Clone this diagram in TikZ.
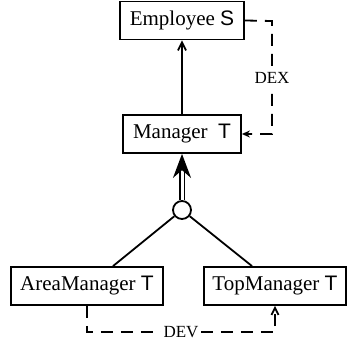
\documentclass[tikz,border=0pt]{standalone}
\usepackage{fontspec}
\setmainfont{Liberation Serif}
\newfontfamily\sansT{Liberation Sans}
\usetikzlibrary{arrows.meta}

\tikzset{
  cls/.style={draw, line width=1.8pt, minimum height=38pt, inner sep=0pt, font=\fontsize{21}{25}\selectfont},
  link/.style={line width=1.8pt},
  devline/.style={line width=1.8pt, dash pattern=on 12pt off 8pt},
  lbl/.style={fill=white, inner sep=3pt, font=\fontsize{17}{20}\selectfont},
}

\begin{document}
\begin{tikzpicture}[x=1pt, y=-1pt]
    \useasboundingbox (0,0) rectangle (347,342);
    % classes
    \node[cls, minimum width=124pt] (emp) at (182,20.5) {Employee {\sansT S}};
    \node[cls, minimum width=118pt] (mgr) at (182,134) {Manager\ \ {\sansT T}};
    \node[cls, minimum width=152pt] (area) at (87,286) {AreaManager {\sansT T}};
    \node[cls, minimum width=142pt] (top) at (275,286) {TopManager {\sansT T}};
    \node[draw, circle, line width=1.8pt, minimum size=18pt, inner sep=0pt] (circ) at (182,210) {};
    % specialisation
    \draw[link, -{Straight Barb[length=8pt,width=8pt]}] (mgr) -- (emp);
    \draw[line width=1.8pt, double, double distance=3pt, -{Stealth[length=24pt,width=18pt]}] (circ) -- (mgr);
    \draw[link] (circ) -- ([xshift=26pt]area.north);
    \draw[link] (circ) -- ([xshift=-23pt]top.north);
    % dependencies
    \coordinate (dexc) at (272,21);
    \draw[devline, -{Stealth[length=8pt,width=7pt]}] (emp.east) -- (dexc) |- node[lbl, pos=0.25] {DEX} (mgr.east);
    \coordinate (devy) at (0,332);
    \draw[devline, -{Straight Barb[length=7pt,width=7pt]}] (area.south) -- (area.south |- devy)
        -- node[lbl] {DEV} (top.south |- devy) -- (top.south);
\end{tikzpicture}
\end{document}
